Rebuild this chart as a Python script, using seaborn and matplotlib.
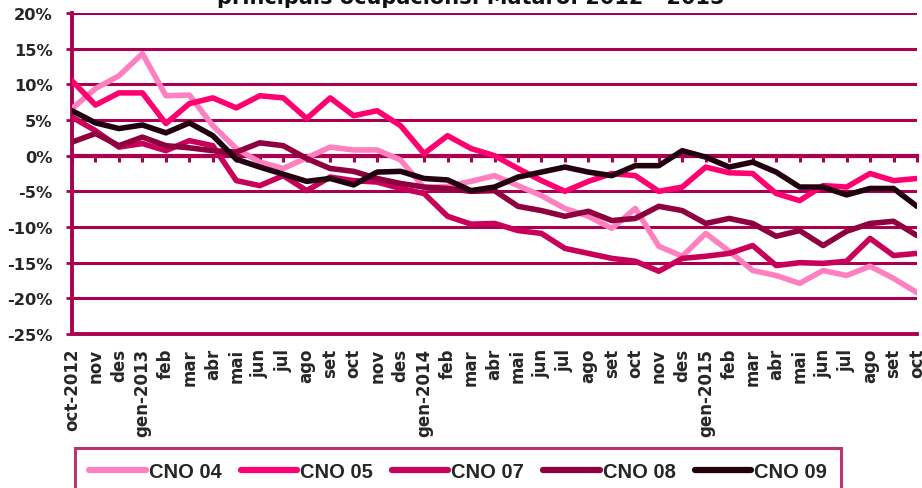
# Evolució interanual de l'atur per principals ocupacions (Mataró, 2012-2015)

import matplotlib
matplotlib.use("Agg")
import matplotlib.pyplot as plt
from matplotlib.ticker import FuncFormatter
import pandas as pd
import seaborn as sns


# ======================== dades ========================
MONTHS = [
    "oct-2012", "nov", "des", "gen-2013", "feb", "mar", "abr", "mai", "jun", "jul", "ago", "set",
    "oct", "nov", "des", "gen-2014", "feb", "mar", "abr", "mai", "jun", "jul", "ago", "set",
    "oct", "nov", "des", "gen-2015", "feb", "mar", "abr", "mai", "jun", "jul", "ago", "set",
    "oct",
]

CNO_04 = [6.6, 9.4, 11.2, 14.3, 8.4, 8.5, 4.2, 1.0, -0.9, -1.8,
          -0.3, 1.2, 0.8, 0.8, -0.6, -4.5, -4.3, -3.6, -2.8, -4.2,
          -5.6, -7.4, -8.5, -10.2, -7.4, -12.7, -14.1, -10.9, -13.4, -16.1,
          -16.8, -17.9, -16.1, -16.8, -15.5, -17.2, -19.2]
CNO_05 = [10.5, 7.1, 8.8, 8.8, 4.5, 7.3, 8.1, 6.7, 8.4, 8.1,
          5.2, 8.1, 5.6, 6.3, 4.2, 0.3, 2.8, 1.0, 0.0, -1.8,
          -3.5, -5.0, -3.6, -2.5, -2.8, -5.0, -4.4, -1.6, -2.4, -2.5,
          -5.3, -6.3, -4.2, -4.4, -2.5, -3.5, -3.2]
CNO_07 = [5.4, 3.5, 1.2, 1.7, 0.7, 2.1, 1.4, -3.5, -4.2, -2.8,
          -4.9, -3.0, -3.5, -3.7, -4.6, -5.3, -8.5, -9.6, -9.5, -10.5,
          -10.9, -13.0, -13.7, -14.4, -14.8, -16.2, -14.4, -14.1, -13.7, -12.6,
          -15.4, -15.0, -15.1, -14.8, -11.6, -14.0, -13.7]
CNO_08 = [1.9, 3.1, 1.4, 2.6, 1.4, 1.1, 0.7, 0.5, 1.8, 1.4,
          -0.4, -1.8, -2.2, -3.2, -3.9, -4.4, -4.6, -5.0, -4.9, -7.1,
          -7.7, -8.5, -7.8, -9.1, -8.8, -7.1, -7.7, -9.5, -8.8, -9.5,
          -11.3, -10.5, -12.6, -10.6, -9.5, -9.2, -11.2]
CNO_09 = [6.3, 4.6, 3.8, 4.3, 3.2, 4.6, 2.8, -0.5, -1.6, -2.6,
          -3.6, -3.2, -4.1, -2.3, -2.2, -3.2, -3.4, -4.9, -4.4, -3.0,
          -2.3, -1.6, -2.3, -2.8, -1.4, -1.4, 0.7, -0.2, -1.6, -0.9,
          -2.3, -4.4, -4.4, -5.5, -4.6, -4.6, -7.1]

SERIES_NAMES = ["CNO 04", "CNO 05", "CNO 07", "CNO 08", "CNO 09"]
Y_TICKS = [20, 15, 10, 5, 0, -5, -10, -15, -20, -25]

TITLE = "principals ocupacions. Mataró. 2012 - 2015"


# ======================== estil ========================
AXIS_COLOR = "#AA0050"
COLORS = {
    "CNO 04": "#FF80C0",
    "CNO 05": "#FF0070",
    "CNO 07": "#C8005A",
    "CNO 08": "#8E003E",
    "CNO 09": "#220010",
}

sns.set_theme(style="white")
plt.rcParams["font.family"] = ["DejaVu Sans"]
plt.rcParams["axes.unicode_minus"] = False

df = pd.DataFrame({"mes": range(len(MONTHS))})
for name, values in zip(SERIES_NAMES, [CNO_04, CNO_05, CNO_07, CNO_08, CNO_09]):
    df[name] = values

fig = plt.figure(figsize=(9.22, 4.89), dpi=100)
ax = fig.add_axes([72 / 922, 1 - 335 / 489, (917 - 72) / 922, (335 - 14) / 489])

for name in SERIES_NAMES:
    sns.lineplot(
        data=df,
        x="mes",
        y=name,
        color=COLORS[name],
        linewidth=4.0,
        label=name,
        ax=ax,
        zorder=3,
    )

ax.set_xlim(0, len(MONTHS) - 1)
ax.set_ylim(-25, 20)
ax.set_yticks(Y_TICKS)
ax.yaxis.set_major_formatter(FuncFormatter(lambda v, _: f"{v:.0f}%"))
ax.set_xticks(range(len(MONTHS)))
ax.set_xticklabels(MONTHS, rotation=90, fontsize=12, fontweight="bold", va="top")
for lab in ax.get_yticklabels():
    lab.set_fontweight("bold")
    lab.set_fontsize(11.7)
ax.tick_params(axis="y", direction="out", length=4, width=2, color=AXIS_COLOR, pad=10, left=True)
ax.tick_params(axis="x", length=0, pad=10)
ax.set_xlabel("")
ax.set_ylabel("")

ax.yaxis.grid(True, color=AXIS_COLOR, linewidth=2.2)
ax.xaxis.grid(False)
for side in ["top", "right"]:
    ax.spines[side].set_visible(False)
for side in ["left", "bottom"]:
    ax.spines[side].set_color(AXIS_COLOR)
    ax.spines[side].set_linewidth(2.8)

# eix horitzontal creuant al 0%
zero_axis = ax.secondary_xaxis(25 / 45)
zero_axis.set_alignment("bottom")
zero_axis.set_xticks(range(len(MONTHS)))
zero_axis.tick_params(direction="out", length=4.5, width=2.2, color=AXIS_COLOR, labelbottom=False)
zero_axis.spines["bottom"].set_color(AXIS_COLOR)
zero_axis.spines["bottom"].set_linewidth(3)

handles, labels = ax.get_legend_handles_labels()
ax.get_legend().remove()
leg = fig.legend(
    handles,
    labels,
    loc="upper center",
    bbox_to_anchor=(0.497, 1 - 449 / 489),
    ncol=5,
    frameon=True,
    fancybox=False,
    prop={"family": "Liberation Sans", "weight": "bold", "size": 14.5},
    handlelength=2.8,
    handletextpad=0.15,
    columnspacing=0.95,
    borderpad=0.7,
    borderaxespad=0,
)
leg.get_frame().set_edgecolor(AXIS_COLOR)
leg.get_frame().set_linewidth(2.2)
for line in leg.get_lines():
    line.set_linewidth(4.5)

fig.text(0.511, 1 - 4 / 489, TITLE, ha="center", va="baseline",
         fontsize=15, fontweight="bold", color="#111111")

fig.savefig("out.png", dpi=100)
